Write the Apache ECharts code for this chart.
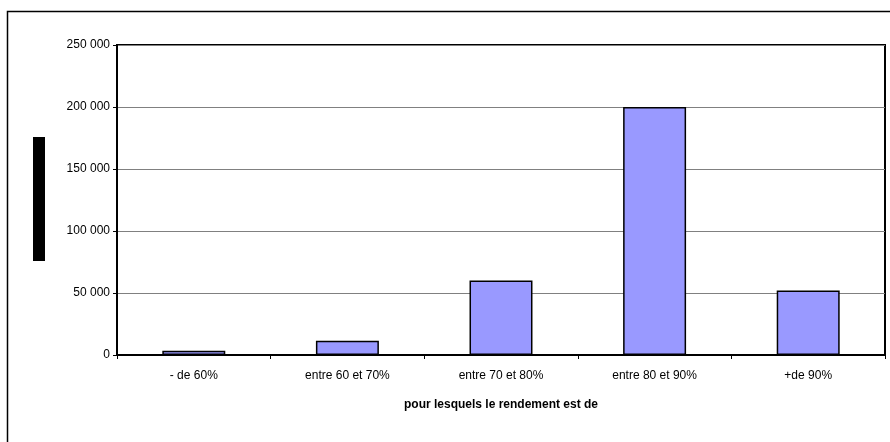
<!DOCTYPE html>
<html><head><meta charset="utf-8">
<script src="https://cdn.jsdelivr.net/npm/echarts@6/dist/echarts.min.js"></script>
<style>html,body{margin:0;padding:0;background:#fff}#c{width:890px;height:442px}</style>
</head><body><div id="c"></div>
<script>
var categories = ['- de 60%', 'entre 60 et 70%', 'entre 70 et 80%', 'entre 80 et 90%', '+de 90%'];
var values = [3500, 11500, 60000, 200000, 52000];
var yTicks = [0, 50000, 100000, 150000, 200000, 250000];
var xTitle = 'pour lesquels le rendement est de';

function fmt(v){ return String(v).replace(/\B(?=(\d{3})+(?!\d))/g, ' '); }

var chart = echarts.init(document.getElementById('c'), null, {renderer:'canvas'});
chart.setOption({
  animation: false,
  backgroundColor: '#fff',
  textStyle: {fontFamily: 'Liberation Sans, Arial, sans-serif'},
  grid: {left: 117, right: 5, top: 45, bottom: 87, show: true, borderColor: '#000', borderWidth: 2, backgroundColor: 'transparent'},
  graphic: [
    {type: 'rect', shape: {x: 7.5, y: 11.5, width: 900, height: 450}, style: {fill: 'none', stroke: '#000', lineWidth: 1.5}, silent: true},
    {type: 'rect', shape: {x: 33, y: 137, width: 12, height: 124}, style: {fill: '#000'}, silent: true}
  ],
  xAxis: {
    type: 'category', data: categories,
    name: xTitle, nameLocation: 'middle', nameGap: 44,
    nameTextStyle: {fontSize: 12, fontWeight: 'bold', color: '#000'},
    axisLine: {lineStyle: {color: '#000', width: 2}},
    axisTick: {show: true, length: 4, lineStyle: {color: '#000', width: 1}},
    axisLabel: {fontSize: 12, color: '#000', margin: 15}
  },
  yAxis: {
    type: 'value', min: 0, max: 250000, interval: 50000,
    axisLine: {show: true, lineStyle: {color: '#000', width: 2}},
    axisTick: {show: true, length: 4, lineStyle: {color: '#000', width: 1}},
    axisLabel: {fontSize: 12, color: '#000', margin: 7, formatter: function(v){ return yTicks.indexOf(v) >= 0 ? fmt(v) : ''; }},
    splitLine: {show: true, lineStyle: {color: '#808080', width: 1}}
  },
  series: [{
    type: 'bar', data: values, barWidth: '41%',
    itemStyle: {color: '#9999FF', borderColor: '#000', borderWidth: 1.5}
  }]
});
</script></body></html>
